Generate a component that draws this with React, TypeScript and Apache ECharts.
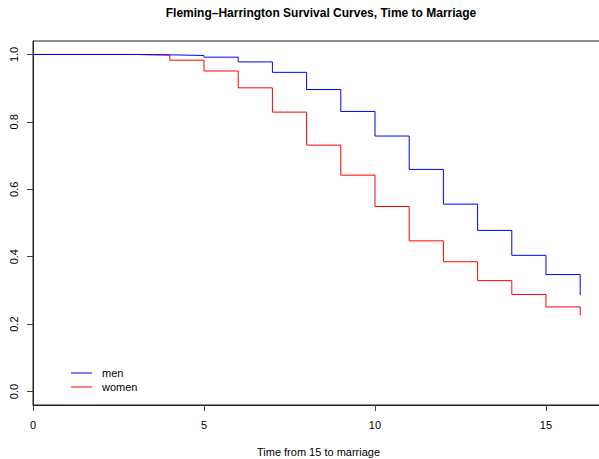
import React, { useEffect, useRef } from "react";
import * as echarts from "echarts";

const times = [0, 3, 4, 5, 6, 7, 8, 9, 10, 11, 12, 13, 14, 15, 16];
const menSurvival = [1, 0.999, 0.997, 0.992, 0.978, 0.947, 0.896, 0.831, 0.758, 0.659, 0.556, 0.478, 0.404, 0.347, 0.286];
const womenSurvival = [1, 0.998, 0.983, 0.951, 0.901, 0.829, 0.731, 0.642, 0.549, 0.447, 0.385, 0.329, 0.288, 0.251, 0.226];
const xTicks = [0, 5, 10, 15];
const yTicks = [0, 0.2, 0.4, 0.6, 0.8, 1.0];
const seriesNames = ["men", "women"];
const seriesColors = ["#0000ff", "#ff0000"];

const FONT = "Liberation Sans, Arial, Helvetica, sans-serif";

export default function App() {
  const ref = useRef<HTMLDivElement>(null);
  useEffect(() => {
    document.body.style.margin = "0";
    if (!ref.current) return;
    const chart = echarts.init(ref.current, undefined, { renderer: "svg" });
    const gridLeft = 33;
    const gridTop = 41;
    const gridBottom = 54;
    const legendItems: any[] = [];
    seriesNames.forEach((name, i) => {
      const y = 373 + i * 14;
      legendItems.push({
        type: "line",
        shape: { x1: 71, y1: y, x2: 92, y2: y },
        style: { stroke: seriesColors[i], lineWidth: 1 },
      });
      legendItems.push({
        type: "text",
        x: 102,
        y: y,
        style: {
          text: name,
          fill: "#000",
          font: `11px ${FONT}`,
          verticalAlign: "middle",
        },
      });
    });
    chart.setOption({
      animation: false,
      backgroundColor: "#ffffff",
      title: {
        text: "Fleming\u2013Harrington Survival Curves, Time to Marriage",
        left: 316,
        textAlign: "center",
        top: 2,
        textStyle: { fontFamily: FONT, fontSize: 12, fontWeight: "bold", color: "#000" },
      },
      grid: {
        left: gridLeft,
        top: gridTop,
        bottom: gridBottom,
        right: -5,
        outerBoundsMode: "none",
        containLabel: false,
        show: true,
        borderColor: "#222",
        borderWidth: 1,
        backgroundColor: "transparent",
      },
      xAxis: {
        type: "value",
        min: 0,
        max: 16.696,
        name: "Time from 15 to marriage",
        nameLocation: "middle",
        nameGap: 41,
        nameTextStyle: { fontFamily: FONT, fontSize: 11, color: "#000" },
        axisLine: { show: true, onZero: false, lineStyle: { color: "#222" } },
        axisTick: { show: true, length: 6, customValues: xTicks, lineStyle: { color: "#444" } },
        axisLabel: {
          customValues: xTicks,
          margin: 14,
          fontFamily: FONT,
          fontSize: 11,
          color: "#000",
          formatter: (v: number) => String(v),
        },
        splitLine: { show: false },
      },
      yAxis: {
        type: "value",
        min: -0.04,
        max: 1.04,
        axisLine: { show: true, onZero: false, lineStyle: { color: "#222" } },
        axisTick: { show: true, length: 6, customValues: yTicks, lineStyle: { color: "#444" } },
        axisLabel: {
          customValues: yTicks,
          rotate: 90,
          margin: 14,
          fontFamily: FONT,
          fontSize: 11,
          color: "#000",
          formatter: (v: number) => v.toFixed(1),
        },
        splitLine: { show: false },
      },
      series: [menSurvival, womenSurvival].map((vals, i) => ({
        name: seriesNames[i],
        type: "line",
        step: "end",
        symbol: "none",
        data: times.map((t, j) => [t, vals[j]]),
        lineStyle: { color: seriesColors[i], width: 1 },
        itemStyle: { color: seriesColors[i] },
        z: 3 - i,
      })),
      graphic: legendItems,
    });
    return () => chart.dispose();
  }, []);
  return <div ref={ref} style={{ width: 599, height: 459, position: "fixed", left: 0, top: 0 }} />;
}
